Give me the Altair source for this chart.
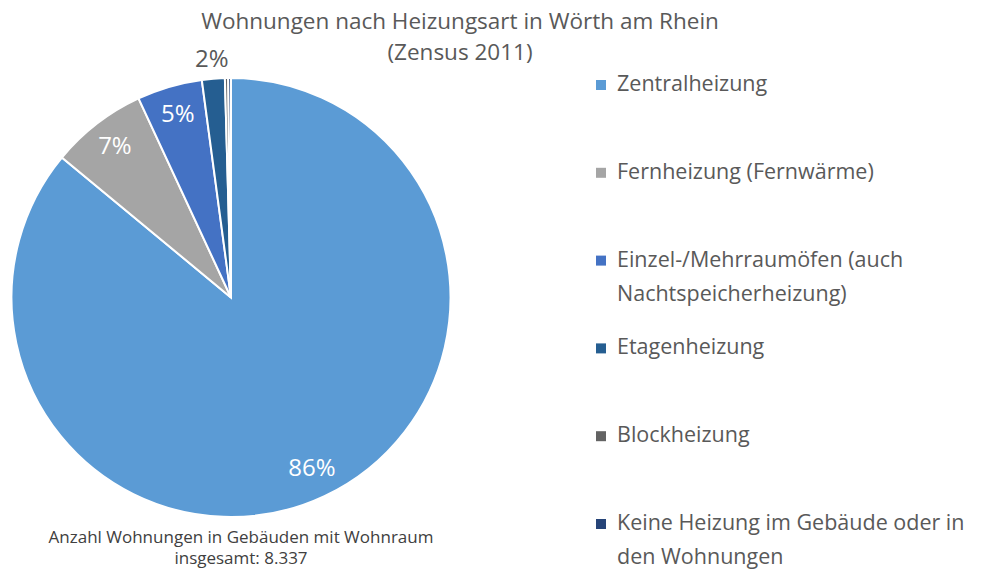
import altair as alt
import pandas as pd

categories = [
    "Zentralheizung",
    "Fernheizung (Fernwärme)",
    "Einzel-/Mehrraumöfen (auch\nNachtspeicherheizung)",
    "Etagenheizung",
    "Blockheizung",
    "Keine Heizung im Gebäude oder in\nden Wohnungen",
]
values = [7170, 590, 400, 140, 20, 17]
colors = ["#5B9BD5", "#A5A5A5", "#4472C4", "#255E91", "#636363", "#264478"]

title_line1 = "Wohnungen nach Heizungsart in Wörth am Rhein"
title_line2 = "(Zensus 2011)"
footnote = "Anzahl Wohnungen in Gebäuden mit Wohnraum\ninsgesamt: 8.337"

df = pd.DataFrame({"cat": categories, "value": values, "idx": list(range(len(categories)))})

FONT = "Open Sans"
CX, CY, R = 223, 289.5, 219.5

color_scale = alt.Scale(domain=categories, range=colors)

base = alt.Chart(df).transform_joinaggregate(
    total="sum(value)"
).transform_calculate(
    pct="round(datum.value / datum.total * 100)",
).transform_calculate(
    inlab="datum.pct >= 3 ? datum.pct + '%' : ''",
    outlab="datum.pct >= 1 && datum.pct < 3 ? datum.pct + '%' : ''",
).encode(
    theta=alt.Theta("value:Q", stack=True),
    order=alt.Order("idx:Q", sort="ascending"),
)

arcs = base.mark_arc(
    x=CX, y=CY, outerRadius=R, stroke="white", strokeWidth=2
).encode(
    color=alt.Color("cat:N", scale=color_scale, legend=None),
)

in_labels = base.mark_text(
    x=CX, y=CY, radius=190, font=FONT, fontSize=24, color="white"
).encode(text="inlab:N")

out_labels = base.mark_text(
    x=CX, y=CY, radius=238, font=FONT, fontSize=24, color="#595959"
).encode(text="outlab:N")

legend_df = pd.DataFrame({"cat": categories, "row": list(range(len(categories)))})
leg_base = alt.Chart(legend_df).encode(
    y=alt.Y("row:Q", scale=alt.Scale(domain=[0, 5], range=[77, 516]), axis=None),
)
leg_sq = leg_base.mark_square(size=100, opacity=1).encode(
    x=alt.value(593),
    color=alt.Color("cat:N", scale=color_scale, legend=None),
)
leg_txt = leg_base.mark_text(
    align="left", baseline="middle", font=FONT, fontSize=21.5, color="#595959",
    lineBreak="\n", lineHeight=34
).encode(
    x=alt.value(609),
    text="cat:N",
)

title1 = alt.Chart(pd.DataFrame({"t": [title_line1]})).mark_text(
    align="center", baseline="middle", font=FONT, fontSize=22.5, color="#595959"
).encode(x=alt.value(452), y=alt.value(14), text="t:N")

title2 = alt.Chart(pd.DataFrame({"t": [title_line2]})).mark_text(
    align="center", baseline="middle", font=FONT, fontSize=22.5, color="#595959"
).encode(x=alt.value(452), y=alt.value(45), text="t:N")

foot = alt.Chart(pd.DataFrame({"t": [footnote]})).mark_text(
    align="center", baseline="middle", font=FONT, fontSize=17, color="#404040",
    lineBreak="\n", lineHeight=21
).encode(x=alt.value(233), y=alt.value(530), text="t:N")

chart = alt.layer(arcs, in_labels, out_labels, leg_sq, leg_txt, title1, title2, foot).properties(
    width=966, height=561, padding=0,
    autosize=alt.AutoSizeParams(type="none"),
).configure(background="white").configure_view(stroke="transparent", strokeWidth=0)

chart.save("out.html", embed_options={"renderer": "svg", "actions": False})
